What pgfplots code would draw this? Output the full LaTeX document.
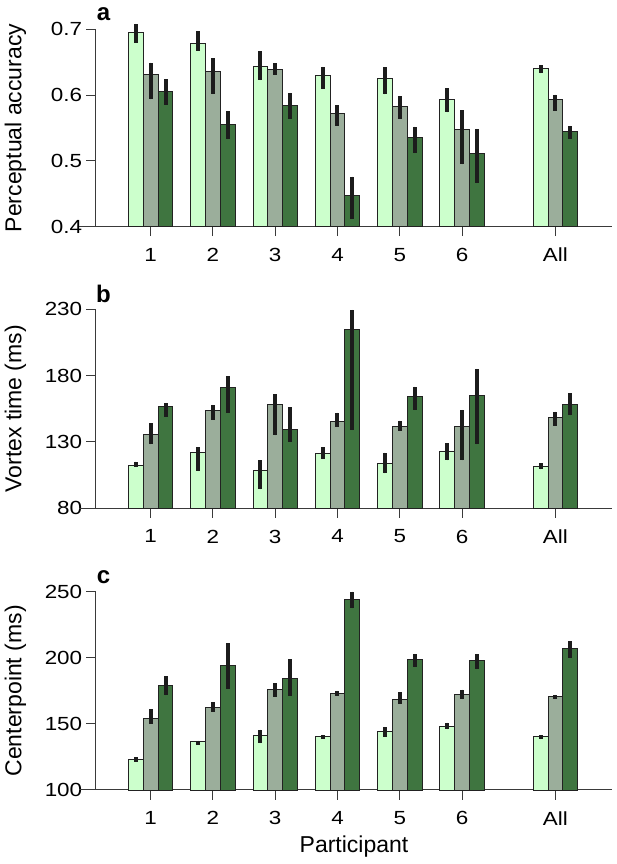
\documentclass[border=0pt]{standalone}
\usepackage{fontspec}
\setmainfont{Liberation Sans}
\newfontfamily\tickfont{Liberation Sans}[FakeStretch=1.18]
\usepackage{pgfplots}
\usepackage{pgfplotstable}
\pgfplotsset{compat=1.18}
\definecolor{cl}{HTML}{CCFFCC}
\definecolor{cg}{HTML}{9BAE9B}
\definecolor{cd}{HTML}{3F7540}
\definecolor{axc}{HTML}{3A3A3A}
\definecolor{edgec}{HTML}{222222}
\definecolor{errc}{HTML}{1C1C1C}

% x, light (value, +err, -err), gray (...), dark (...)
\pgfplotstableread{
x   l     lp     lm     g     gp     gm     d     dp     dm
1   0.695 0.0132 0.0152 0.631 0.0182 0.0375 0.605 0.0193 0.0193
2   0.678 0.0188 0.0106 0.636 0.0203 0.0345 0.555 0.0208 0.0223
3   0.643 0.0233 0.0203 0.639 0.0096 0.0081 0.584 0.0193 0.0198
4   0.630 0.0127 0.0208 0.572 0.0127 0.0188 0.447 0.0289 0.0350
5   0.625 0.0172 0.0238 0.583 0.0157 0.0193 0.536 0.0162 0.0243
6   0.594 0.0162 0.0203 0.548 0.0289 0.0532 0.511 0.0375 0.0446
7.5 0.640 0.0051 0.0071 0.594 0.0066 0.0177 0.545 0.0081 0.0112
}\tabA
\pgfplotstableread{
x   l     lp   lm   g     gp   gm   d     dp   dm
1   112.4 2.8  1.0  135.5 8.5  7.3  156.4 2.8  7.3
2   122.2 3.8  14.1 153.4 4.5  6.8  171.2 8.5  19.1
3   108.4 7.8  14.1 158.4 7.5  23.4 139.5 16.8 9.5
4   121.4 4.5  4.3  145.6 6.5  4.3  214.9 14.6 75.9
5   113.6 8.3  7.3  141.5 4.5  3.3  164.2 7.5  10.1
6   123.2 5.8  7.0  141.5 12.6 25.4 165.2 19.9 36.9
7.5 111.4 2.5  2.0  148.3 4.5  6.0  158.4 8.3  8.3
}\tabB
\pgfplotstableread{
x   l     lp   lm   g     gp   gm   d     dp   dm
1   123.2 1.5  1.8  154.3 6.6  4.3  179.3 6.6  7.8
2   136.4 1.0  2.0  162.4 3.8  3.3  194.2 16.9 17.9
3   141.2 4.5  5.8  176.3 4.3  5.6  184.4 14.4 13.1
4   140.4 1.3  1.5  173.2 1.8  1.8  244.2 5.8  6.8
5   144.2 3.5  4.0  168.4 5.6  3.0  199.0 4.0  6.1
6   148.2 2.8  2.3  172.5 3.5  4.0  198.2 4.8  6.8
7.5 140.2 1.3  1.8  170.5 1.5  1.8  207.3 5.1  7.3
}\tabC

\pgfplotsset{
  panel/.style={
    scale only axis, width=516.3pt,
    xmin=0.1166, xmax=8.409, ymin=0,
    ybar=0pt, bar width=0.238,
    axis x line=bottom, axis y line=left,
    axis line style={-, line width=1pt, color=axc},
    tick style={line width=1pt, color=axc},
    tick align=outside, major tick length=9.5pt,
    xtick={1,2,3,4,5,6,7.5}, xticklabels={1,2,3,4,5,6,All},
    clip=false,
    ticklabel style={font=\tickfont\fontsize{19}{22}\selectfont, text=black},
    xticklabel style={yshift=-8.5pt},
    yticklabel style={xshift=-0.5pt},
    error bars/y dir=both, error bars/y explicit, error bars/error mark=none,
    error bars/error bar style={line width=4pt, color=errc, solid},
  },
}

\begin{document}
\begin{tikzpicture}[x=1pt,y=1pt]
\useasboundingbox (0,0) rectangle (617,864);

% ---- panel a ----
\begin{axis}[panel, at={(95.7pt,637.3pt)}, anchor=south west, height=197.4pt,
  ymax=0.3, ytick={0,0.1,0.2,0.3}, yticklabels={0.4,0.5,0.6,0.7}]
\addplot[fill=cl, draw=edgec, line width=0.9pt] table[x=x, y expr=\thisrow{l}-0.4, y error plus=lp, y error minus=lm] {\tabA};
\addplot[fill=cg, draw=edgec, line width=0.9pt] table[x=x, y expr=\thisrow{g}-0.4, y error plus=gp, y error minus=gm] {\tabA};
\addplot[fill=cd, draw=edgec, line width=0.9pt] table[x=x, y expr=\thisrow{d}-0.4, y error plus=dp, y error minus=dm] {\tabA};
\draw[line width=1pt, color=axc] (rel axis cs:0,0) -- ++(-9.7pt,0);
\end{axis}

% ---- panel b ----
\begin{axis}[panel, at={(95.7pt,355.7pt)}, anchor=south west, height=199pt,
  ymax=150, ytick={0,50,100,150}, yticklabels={80,130,180,230}]
\addplot[fill=cl, draw=edgec, line width=0.9pt] table[x=x, y expr=\thisrow{l}-80, y error plus=lp, y error minus=lm] {\tabB};
\addplot[fill=cg, draw=edgec, line width=0.9pt] table[x=x, y expr=\thisrow{g}-80, y error plus=gp, y error minus=gm] {\tabB};
\addplot[fill=cd, draw=edgec, line width=0.9pt] table[x=x, y expr=\thisrow{d}-80, y error plus=dp, y error minus=dm] {\tabB};
\draw[line width=1pt, color=axc] (rel axis cs:0,0) -- ++(-9.7pt,0);
\end{axis}

% ---- panel c ----
\begin{axis}[panel, at={(95.7pt,74pt)}, anchor=south west, height=198.3pt,
  ymax=150, ytick={0,50,100,150}, yticklabels={100,150,200,250}]
\addplot[fill=cl, draw=edgec, line width=0.9pt] table[x=x, y expr=\thisrow{l}-100, y error plus=lp, y error minus=lm] {\tabC};
\addplot[fill=cg, draw=edgec, line width=0.9pt] table[x=x, y expr=\thisrow{g}-100, y error plus=gp, y error minus=gm] {\tabC};
\addplot[fill=cd, draw=edgec, line width=0.9pt] table[x=x, y expr=\thisrow{d}-100, y error plus=dp, y error minus=dm] {\tabC};
\draw[line width=1pt, color=axc] (rel axis cs:0,0) -- ++(-9.7pt,0);
\end{axis}

% labels
\node[rotate=90, anchor=center, font=\fontsize{23}{26}\selectfont] at (15.5,736) {Perceptual accuracy};
\node[rotate=90, anchor=center, font=\fontsize{23}{26}\selectfont] at (15.5,455.2) {Vortex time (ms)};
\node[rotate=90, anchor=center, font=\fontsize{23}{26}\selectfont] at (15.5,173.1) {Centerpoint (ms)};
\node[anchor=center, font=\fontsize{23}{26}\selectfont] at (354,17) {Participant};
\node[anchor=center, font=\fontsize{24}{27}\selectfont\bfseries] at (103.5,850) {a};
\node[anchor=center, font=\fontsize{24}{27}\selectfont\bfseries] at (103.5,570) {b};
\node[anchor=center, font=\fontsize{24}{27}\selectfont\bfseries] at (103.5,287) {c};
\end{tikzpicture}
\end{document}
